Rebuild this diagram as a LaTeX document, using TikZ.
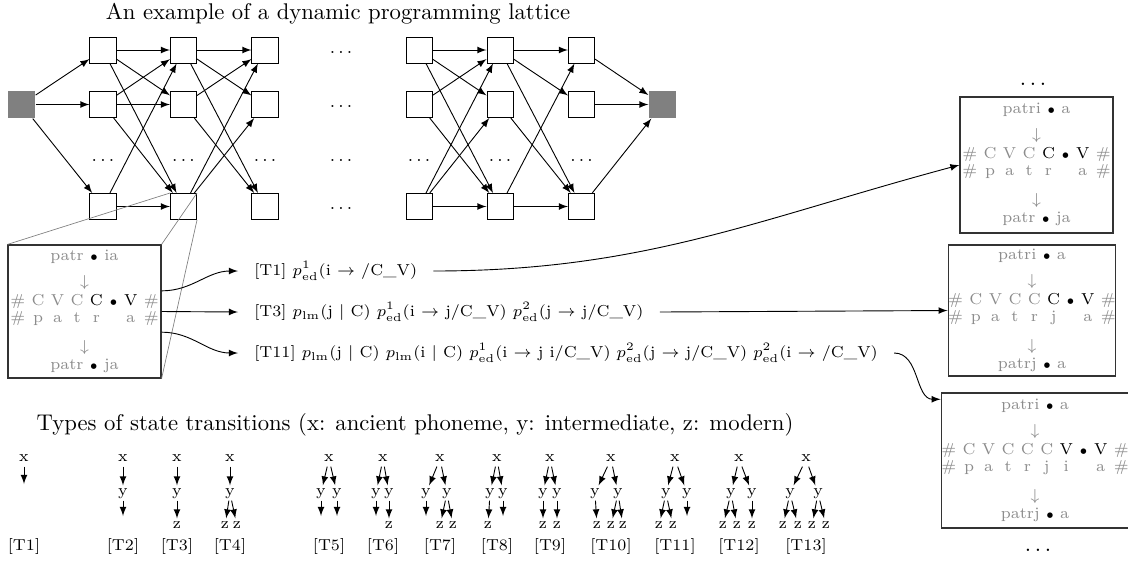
\documentclass[tikz,border=0pt]{standalone}
\usepackage{amsmath}
\usepackage{amssymb}
\usepackage{tikz}

\newcommand{\bk}[1]{{\color{black}#1}}
\newcommand{\bul}{\bk{$\scriptstyle\bullet$}}
\newcommand{\stbox}[6]{{\renewcommand\arraystretch{0.875}\setlength\tabcolsep{1.4pt}%
\begin{tabular}{#2}
\multicolumn{#1}{c}{#3}\\[4.5pt]
\multicolumn{#1}{c}{$\downarrow$}\\[1.4pt]
#4\\[0.4pt]
#5\\[5.8pt]
\multicolumn{#1}{c}{$\downarrow$}\\[0.9pt]
\multicolumn{#1}{c}{#6}
\end{tabular}}}

\begin{document}
\begin{tikzpicture}[x=0.4405pt, y=-0.4405pt,
  cell/.style={draw, minimum size=11.5pt, inner sep=0pt},
  term/.style={fill=black!50, minimum size=12pt, inner sep=0pt},
  dots/.style={font=\footnotesize, inner sep=0pt},
  link/.style={-latex, line width=0.4pt},
  zoomline/.style={black!50, line width=0.3pt},
  statebox/.style={draw=black!80, line width=0.5pt, inner sep=0pt, text=black!45, font=\scriptsize},
  lbl/.style={anchor=west, font=\scriptsize, inner xsep=7pt, inner ysep=1pt},
  ph/.style={font=\scriptsize, inner sep=0.8pt, text height=3.3pt, text depth=1.4pt},
  tl/.style={font=\scriptsize, inner sep=1pt}]
\useasboundingbox (0,0) rectangle (1128,564);

% lattice
\node (ttl) at (338,14) {An example of a dynamic programming lattice};
\node[term] (ns) at (21.5,104.5) {};
\node[term] (ne) at (662.5,104.5) {};
\foreach \c/\x in {1/103,2/183.5,3/265,5/419,6/500,7/581.5} {
	\foreach \r/\y in {1/50,2/104.5,4/206.5} {
		\node[cell] (n\c\r) at (\x,\y) {};
		};
	\node[dots] (d\c) at (\x,160) {$\ldots$};
	};
\foreach \r/\y in {1/50,2/104.5,3/158,4/206.5} {
	\node[dots] (d4\r) at (341,\y+2) {$\ldots$};
	};
\foreach \a/\b in {s/11,s/12,s/14,11/21,11/22,11/24,12/21,12/22,12/24,14/21,14/24,
	21/31,21/32,21/34,22/31,22/34,24/31,24/32,
	51/61,51/62,51/64,52/61,52/64,54/61,54/62,54/64,
	61/71,61/72,61/74,62/74,64/71,64/74,71/e,72/e,74/e} {
	\draw[link] (n\a) -- (n\b);
	};

% state boxes
\node[statebox, minimum width=67.4pt, minimum height=58.6pt] (lb) at (84.5,311.5)
	{\stbox{8}{@{}cccccccc@{}}{patr \bul{} ia}{\# & C & V & C & \bk{C} & \bul & \bk{V} & \#}{\# & p & a & t & r & & a & \#}{patr \bul{} ja}};
\node[statebox, minimum width=67.4pt, minimum height=59.9pt] (b1) at (1036.5,165)
	{\stbox{8}{@{}cccccccc@{}}{patri \bul{} a}{\# & C & V & C & \bk{C} & \bul & \bk{V} & \#}{\# & p & a & t & r & & a & \#}{patr \bul{} ja}};
\node[statebox, minimum width=71.4pt, minimum height=57.7pt] (b2) at (1032,310.5)
	{\stbox{9}{@{}ccccccccc@{}}{patri \bul{} a}{\# & C & V & C & C & \bk{C} & \bul & \bk{V} & \#}{\# & p & a & t & r & j & & a & \#}{patrj \bul{} a}};
\node[statebox, minimum width=81.9pt, minimum height=59.5pt] (b3) at (1035,460.5)
	{\stbox{10}{@{}cccccccccc@{}}{patri \bul{} a}{\# & C & V & C & C & C & \bk{V} & \bul & \bk{V} & \#}{\# & p & a & t & r & j & i & & a & \#}{patrj \bul{} a}};
\node (dtop) at (1033,84) {$\ldots$};
\node (dbot) at (1038,550) {$\ldots$};

\draw[zoomline] (lb.north west) -- (n24.north west);
\draw[zoomline] (lb.north east) -- (n24.north east);
\draw[zoomline] (lb.south east) -- (n24.south east);

% transitions
\node[lbl] (t1) at (238,271) {[T1] $p^1_{\mathrm{ed}}$(i $\rightarrow$ /C\_V)};
\node[lbl] (t3) at (238,312) {[T3] $p_{\mathrm{lm}}$(j $|$ C) $p^1_{\mathrm{ed}}$(i $\rightarrow$ j/C\_V) $p^2_{\mathrm{ed}}$(j $\rightarrow$ j/C\_V)};
\node[lbl] (t11) at (238,353) {[T11] $p_{\mathrm{lm}}$(j $|$ C) $p_{\mathrm{lm}}$(i $|$ C) $p^1_{\mathrm{ed}}$(i $\rightarrow$ j i/C\_V) $p^2_{\mathrm{ed}}$(j $\rightarrow$ j/C\_V) $p^2_{\mathrm{ed}}$(i $\rightarrow$ /C\_V)};
\draw[link] (lb.15) to[out=0,in=180] (t1.west);
\draw[link] (lb.east) -- (t3.west);
\draw[link] (lb.-15) to[out=0,in=180] (t11.west);
\draw[link] (t1.east) to[out=0,in=195] (b1.west);
\draw[link] (t3.east) -- (b2.west);
\draw[link] (t11.east) to[out=0,in=180] (b3.147);

% types of state transitions
\node (btl) at (415,425) {Types of state transitions (x: ancient phoneme, y: intermediate, z: modern)};
\foreach \n/\x in {1/24,2/123,3/177,4/230,5/329,6/383,7/440,8/497,9/550,10/611,11/675,12/739,13/806} {
	\node[ph] (x\n) at (\x,459) {x};
	\node[tl] (lab\n) at (\x,547) {[T\n]};
	};
\foreach \p/\n/\x in {2/2/123,3/3/177,4/4/230,5/5a/321,5/5b/337,6/6a/376,6/6b/389,7/7a/426,7/7b/447,
	8/8a/490,8/8b/503,9/9a/543,9/9b/557,10/10a/595,10/10b/618,11/11a/666,11/11b/687,
	12/12a/731,12/12b/752,13/13a/790,13/13b/818} {
	\node[ph] (y\n) at (\x,493) {y};
	\draw[link] (x\p) -- (y\n);
	};
\foreach \p/\n/\x in {3/3/177,4/4a/225,4/4b/237,6b/6/389,7b/7a/440,7b/7b/453,8a/8/488,9a/9a/543,9b/9b/557,
	10a/10a/597,10b/10b/611,10b/10c/623,11a/11a/659,11a/11b/673,12a/12a/723,12a/12b/737,12b/12c/752,
	13a/13a/783,13a/13b/798,13b/13c/812,13b/13d/826} {
	\node[ph] (z\n) at (\x,526) {z};
	\draw[link] (y\p) -- (z\n);
	};
\coordinate (o1) at (24,484);
\draw[link] (x1) -- (o1);
\foreach \p/\x in {2/123,5a/321,5b/337,6a/376,7a/426,8b/503,11b/687} {
	\coordinate (o\p) at (\x,516);
	\draw[link] (y\p) -- (o\p);
	};
\end{tikzpicture}
\end{document}
